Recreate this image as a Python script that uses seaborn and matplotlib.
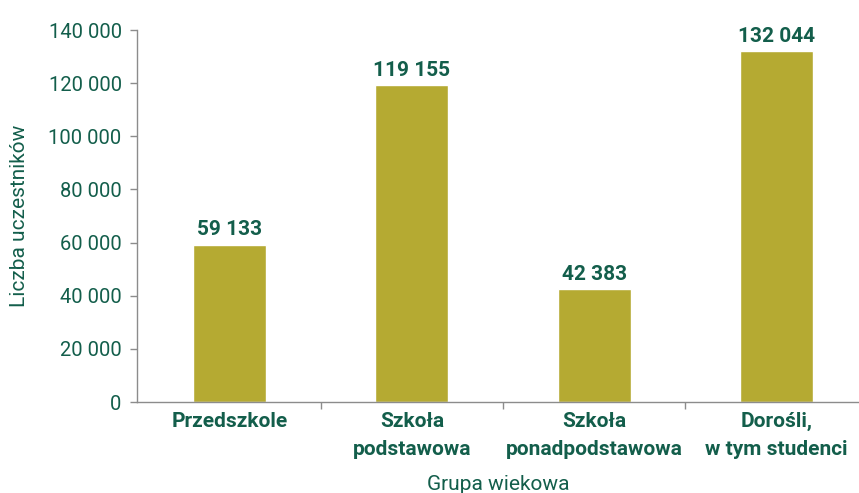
import matplotlib
matplotlib.use("Agg")
import matplotlib.pyplot as plt
import seaborn as sns
import pandas as pd

categories = ["Przedszkole", "Szkoła\npodstawowa", "Szkoła\nponadpodstawowa", "Dorośli,\nw tym studenci"]
values = [59133, 119155, 42383, 132044]
y_ticks = [0, 20000, 40000, 60000, 80000, 100000, 120000, 140000]
x_label = "Grupa wiekowa"
y_label = "Liczba uczestników"

BAR = "#B5AA32"
TXT = "#135E4B"
SPINE = "#8C8C8C"

sns.set_theme(style="white")
plt.rcParams["font.family"] = ["Roboto", "DejaVu Sans"]

df = pd.DataFrame({"cat": categories, "val": values})

fig = plt.figure(figsize=(8.59, 4.93), dpi=100)
ax = fig.add_axes([137/859, 91/493, 1 - 137/859, (402-30)/493])
sns.barplot(data=df, x="cat", y="val", color=BAR, width=0.40, saturation=1, ax=ax)

def fmt(v):
    return f"{v:,}".replace(",", " ")

for i, v in enumerate(values):
    ax.annotate(fmt(v), (i, v), xytext=(0, 4), textcoords="offset points",
                ha="center", va="bottom", fontsize=15, fontweight="bold", color=TXT)

ax.set_xlim(-0.507, 3.452)
ax.set_ylim(0, 140000)
ax.set_yticks(y_ticks)
ax.set_yticklabels([fmt(t) for t in y_ticks], fontsize=14.5, color=TXT)

ax.set_xticks([0.5, 1.5, 2.5])
ax.set_xticklabels([])
ax.set_xticks(range(len(categories)), minor=True)
ax.set_xticklabels(categories, minor=True, fontsize=15, fontweight="bold", color=TXT,
                   linespacing=1.6)
ax.tick_params(axis="x", which="minor", length=0, pad=7)
ax.tick_params(axis="x", which="major", length=5, width=1, color=SPINE, direction="out", bottom=True)
ax.tick_params(axis="y", length=5, width=1, color=SPINE, direction="out", left=True, pad=6)

ax.set_xlabel(x_label, fontsize=15, color=TXT, labelpad=12)
ax.set_ylabel(y_label, fontsize=15, color=TXT, labelpad=14)

for s in ["top", "right"]:
    ax.spines[s].set_visible(False)
for s in ["left", "bottom"]:
    ax.spines[s].set_color(SPINE)
    ax.spines[s].set_linewidth(1)

fig.savefig("out.png", dpi=100)
